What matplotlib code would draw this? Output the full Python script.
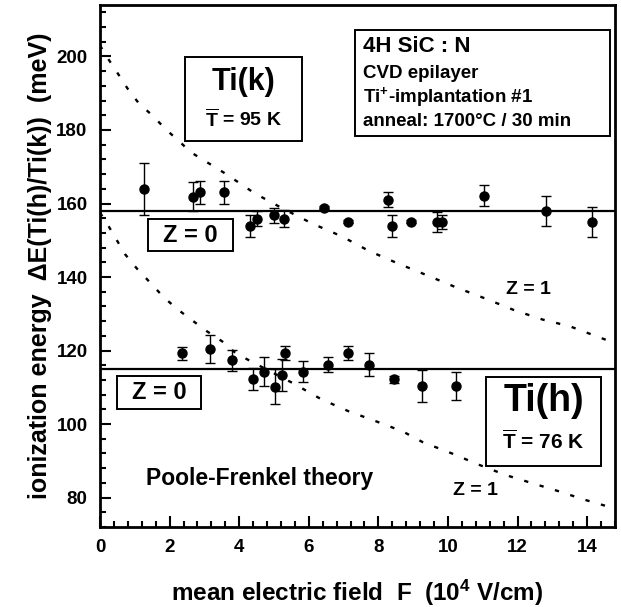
import matplotlib
matplotlib.use("Agg")
import matplotlib.pyplot as plt
from matplotlib.patches import Rectangle
from matplotlib.ticker import MultipleLocator

plt.rcParams['font.family'] = ['Liberation Sans', 'DejaVu Sans']
plt.rcParams['font.weight'] = 'bold'
plt.rcParams['mathtext.fontset'] = 'custom'
plt.rcParams['mathtext.rm'] = 'Liberation Sans:bold'
plt.rcParams['mathtext.bf'] = 'Liberation Sans:bold'
plt.rcParams['mathtext.it'] = 'Liberation Sans:bold'

# ---- data ----
# Ti(k) site
k_field = [1.26, 2.68, 2.86, 3.56, 4.30, 4.52, 5.01, 5.28, 6.43, 7.12, 8.27, 8.39,
           8.95, 9.69, 9.82, 11.04, 12.82, 14.13]
k_energy = [164.0, 161.9, 163.0, 163.0, 153.8, 155.9, 156.8, 155.9, 158.9, 155.0,
            161.0, 154.0, 155.0, 155.0, 155.0, 162.1, 158.0, 155.0]
k_err = [7.0, 4.0, 3.0, 3.0, 3.0, 2.0, 2.0, 2.3, 0.4, 0.4, 2.0, 3.0, 0.4, 2.8, 2.0,
         2.8, 4.0, 4.0]
k_mean = 158.0

# Ti(h) site
h_field = [2.35, 3.17, 3.78, 4.39, 4.71, 5.04, 5.24, 5.33, 5.82, 6.55, 7.12, 7.73,
           8.44, 9.25, 10.24]
h_energy = [119.2, 120.4, 117.3, 112.2, 114.3, 110.2, 113.3, 119.3, 114.3, 116.2,
            119.3, 116.2, 112.2, 110.4, 110.4]
h_err = [1.9, 3.9, 2.9, 3.0, 3.9, 4.8, 4.4, 2.0, 2.9, 2.0, 2.0, 3.0, 1.0, 4.4, 3.8]
h_mean = 115.0

# Poole-Frenkel theory curves (Z = 1)
pf_k_field = [0.0, 0.19, 0.51, 0.79, 1.12, 1.49, 1.91, 2.28, 2.6, 3.61, 4.44, 5.28,
              6.11, 6.94, 7.73, 8.56, 9.39, 10.23, 11.06, 11.9, 12.73, 13.5, 14.8]
pf_k_energy = [203.0, 200.0, 195.4, 191.3, 187.2, 184.1, 180.0, 176.9, 174.0, 168.1,
               162.8, 158.5, 154.5, 151.1, 147.1, 143.7, 140.5, 137.2, 134.2, 131.0,
               128.4, 126.6, 122.0]
pf_h_field = [0.0, 0.23, 0.72, 1.06, 1.45, 1.84, 2.26, 2.68, 3.08, 3.51, 3.9, 4.35,
              5.57, 6.35, 7.14, 7.92, 8.7, 9.27, 10.17, 10.87, 11.67, 12.46, 13.26,
              13.86, 14.8]
pf_h_energy = [157.5, 154.1, 146.2, 142.3, 138.4, 134.4, 131.0, 128.0, 125.2, 122.5,
               119.3, 117.0, 111.0, 106.8, 103.5, 100.8, 98.0, 95.1, 91.8, 89.0, 86.1,
               83.8, 81.5, 79.6, 77.0]

x_ticks = [0, 2, 4, 6, 8, 10, 12, 14]
y_ticks = [80, 100, 120, 140, 160, 180, 200]

# ---- figure ----
fig = plt.figure(figsize=(6.21, 6.07), dpi=100)
ax = fig.add_axes([100 / 621, 1 - 527 / 607, 515 / 621, 522 / 607])
ax.set_xlim(0, 14.8)
ax.set_ylim(72, 214)

dots = (0, (1.8, 5.0))
ax.plot(pf_k_field, pf_k_energy, color='black', lw=1.7, linestyle=dots)
ax.plot(pf_h_field, pf_h_energy, color='black', lw=1.7, linestyle=dots)

ax.axhline(k_mean, color='black', lw=1.6)
ax.axhline(h_mean, color='black', lw=1.6)

for fx, ey, er in [(k_field, k_energy, k_err), (h_field, h_energy, h_err)]:
    ax.errorbar(fx, ey, yerr=er, fmt='o', color='black', ms=6.5, elinewidth=1.0,
                capsize=3.5, capthick=1.0, zorder=5)

ax.set_xticks(x_ticks)
ax.set_yticks(y_ticks)
ax.xaxis.set_minor_locator(MultipleLocator(0.4))
ax.yaxis.set_minor_locator(MultipleLocator(4))
ax.tick_params(which='both', direction='in', top=False, right=False, width=1.5,
               labelsize=13.5, pad=9)
ax.tick_params(which='major', length=8)
ax.tick_params(which='minor', length=4.5)
for lab in ax.get_xticklabels() + ax.get_yticklabels():
    lab.set_fontweight('bold')
for s in ax.spines.values():
    s.set_linewidth(2.0)

ax.set_xlabel('mean electric field  F  (10$^{4}$ V/cm)', fontsize=17.5,
              fontweight='bold', labelpad=15)
ax.set_ylabel('ionization energy  \u0394E(Ti(h)/Ti(k))  (meV)', fontsize=18,
              fontweight='bold', labelpad=3)

def box(x0, y0, x1, y1):
    ax.add_patch(Rectangle((x0, y0), x1 - x0, y1 - y0, fill=True, facecolor='white',
                           edgecolor='black', lw=1.4, zorder=6))

# info box
box(7.34, 178.3, 14.67, 207.3)
ax.text(7.55, 202.8, '4H SiC : N', fontsize=16, fontweight='bold', va='center',
        zorder=7)
ax.text(7.55, 195.5, 'CVD epilayer', fontsize=13.5, fontweight='bold', va='center',
        zorder=7)
ax.text(7.55, 189.0, 'Ti$^{+}$-implantation #1', fontsize=13.5, fontweight='bold',
        va='center', zorder=7)
ax.text(7.55, 182.3, 'anneal: 1700\u00b0C / 30 min', fontsize=13.5,
        fontweight='bold', va='center', zorder=7)

# Ti(k) box
box(2.45, 177.0, 5.8, 199.8)
ax.text(4.12, 193.0, 'Ti(k)', fontsize=22, fontweight='bold', ha='center',
        va='center', zorder=7)
ax.text(4.12, 182.8, r'$\overline{\mathrm{T}}$ = 95 K', fontsize=14,
        fontweight='bold', ha='center', va='center', zorder=7)

# Ti(h) box
box(11.1, 88.7, 14.4, 112.9)
ax.text(12.75, 106.2, 'Ti(h)', fontsize=27, fontweight='bold', ha='center',
        va='center', zorder=7)
ax.text(12.75, 95.3, r'$\overline{\mathrm{T}}$ = 76 K', fontsize=15,
        fontweight='bold', ha='center', va='center', zorder=7)

# Z = 0 boxes
box(1.38, 147.0, 3.82, 155.7)
ax.text(2.6, 151.3, 'Z = 0', fontsize=17, fontweight='bold', ha='center',
        va='center', zorder=7)
box(0.5, 104.1, 2.9, 113.1)
ax.text(1.7, 108.6, 'Z = 0', fontsize=17, fontweight='bold', ha='center',
        va='center', zorder=7)

# Z = 1 labels
ax.text(12.3, 136.5, 'Z = 1', fontsize=14, fontweight='bold', ha='center',
        va='center')
ax.text(10.8, 82.0, 'Z = 1', fontsize=14, fontweight='bold', ha='center',
        va='center')

ax.text(4.6, 85.2, 'Poole-Frenkel theory', fontsize=16.5, fontweight='bold',
        ha='center', va='center')

fig.savefig('out.png', dpi=100)
